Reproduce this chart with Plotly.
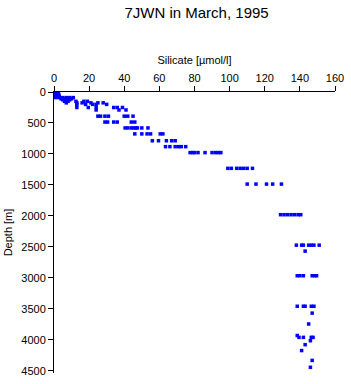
import plotly.graph_objects as go

# depth rows (m) and silicate values (umol/l)
rows = [
    (0, [0.5, 1.0, 1.5]),
    (10, [0.8, 1.2]),
    (20, [1.0, 2.0]),
    (30, [1.2, 2.5]),
    (50, [1.5, 2.8]),
    (75, [1.0, 2.0, 3.0]),
    (90, [1, 3, 5, 7, 9, 11]),
    (110, [4, 6, 8, 10]),
    (125, [5, 7, 9]),
    (150, [6, 8, 12.5, 17, 19]),
    (175, [7, 13, 16, 21, 25, 28]),
    (200, [13, 18, 22, 24, 30]),
    (250, [13, 19.5, 24, 34, 36, 39]),
    (290, [24, 37, 41]),
    (390, [25, 26.5, 29, 31, 40, 42, 45]),
    (485, [29, 30.5, 34, 36, 44, 46]),
    (580, [40.5, 42, 44, 45.5, 46.5, 47.5, 50, 53.5]),
    (676, [46, 50, 53, 55, 60.5, 62]),
    (787, [56, 59.5, 64, 67, 69]),
    (882, [63.5, 66, 69, 71, 72.5, 75]),
    (978, [77.5, 79, 80, 82, 86, 90, 92, 93.5, 95]),
    (1232, [99, 101, 104, 106, 108, 110, 113]),
    (1486, [110, 115, 121, 124.5, 129.5]),
    (1980, [129, 131, 133, 135, 137, 139, 140.5]),
    (2472, [138, 141, 142, 145, 146.5, 148, 151]),
    (2568, [143]),
    (2965, [138.5, 140, 142, 147, 148.5, 149.5]),
    (3458, [138.5, 142, 143, 146.5, 148]),
    (3569, [147]),
    (3744, [145]),
    (3930, [138.5]),
    (3960, [139.5, 142, 146.5, 147.5]),
    (4014, [146]),
    (4078, [143]),
    (4173, [141]),
    (4332, [147]),
    (4443, [146]),
]

depth = [d for d, vals in rows for _ in vals]
silicate = [v for d, vals in rows for v in vals]

x_ticks = [0, 20, 40, 60, 80, 100, 120, 140, 160]
y_ticks = [0, 500, 1000, 1500, 2000, 2500, 3000, 3500, 4000, 4500]

fig = go.Figure()
fig.add_trace(go.Scatter(
    x=silicate, y=depth, mode="markers",
    marker=dict(symbol="square", size=3.5, color="#0000ff", line=dict(width=0)),
    showlegend=False,
))

font = "Liberation Sans, Arial, Helvetica, sans-serif"
fig.update_layout(
    width=351, height=384,
    margin=dict(l=54, r=12, t=91.5, b=7),
    paper_bgcolor="white", plot_bgcolor="white",
    font=dict(family=font, size=11, color="black"),
    title=dict(text="7JWN in March, 1995", x=0.56, xanchor="center",
               y=1 - 7 / 384, yanchor="top", yref="container",
               font=dict(size=15, family=font, color="black")),
    xaxis=dict(
        side="top", range=[0, 160], tickvals=x_ticks,
        showgrid=False, zeroline=False, showline=True, linecolor="black",
        linewidth=1, ticks="outside", ticklen=5, tickcolor="black",
        title=dict(text="Silicate [µmol/l]", standoff=4, font=dict(size=11)),
    ),
    yaxis=dict(
        range=[4535, 0], tickvals=y_ticks,
        showgrid=False, zeroline=False, showline=True, linecolor="black",
        linewidth=1, ticks="outside", ticklen=5, tickcolor="black",
        title=dict(text="Depth [m]", standoff=6, font=dict(size=11)),
    ),
)

fig.write_html("out.html")
